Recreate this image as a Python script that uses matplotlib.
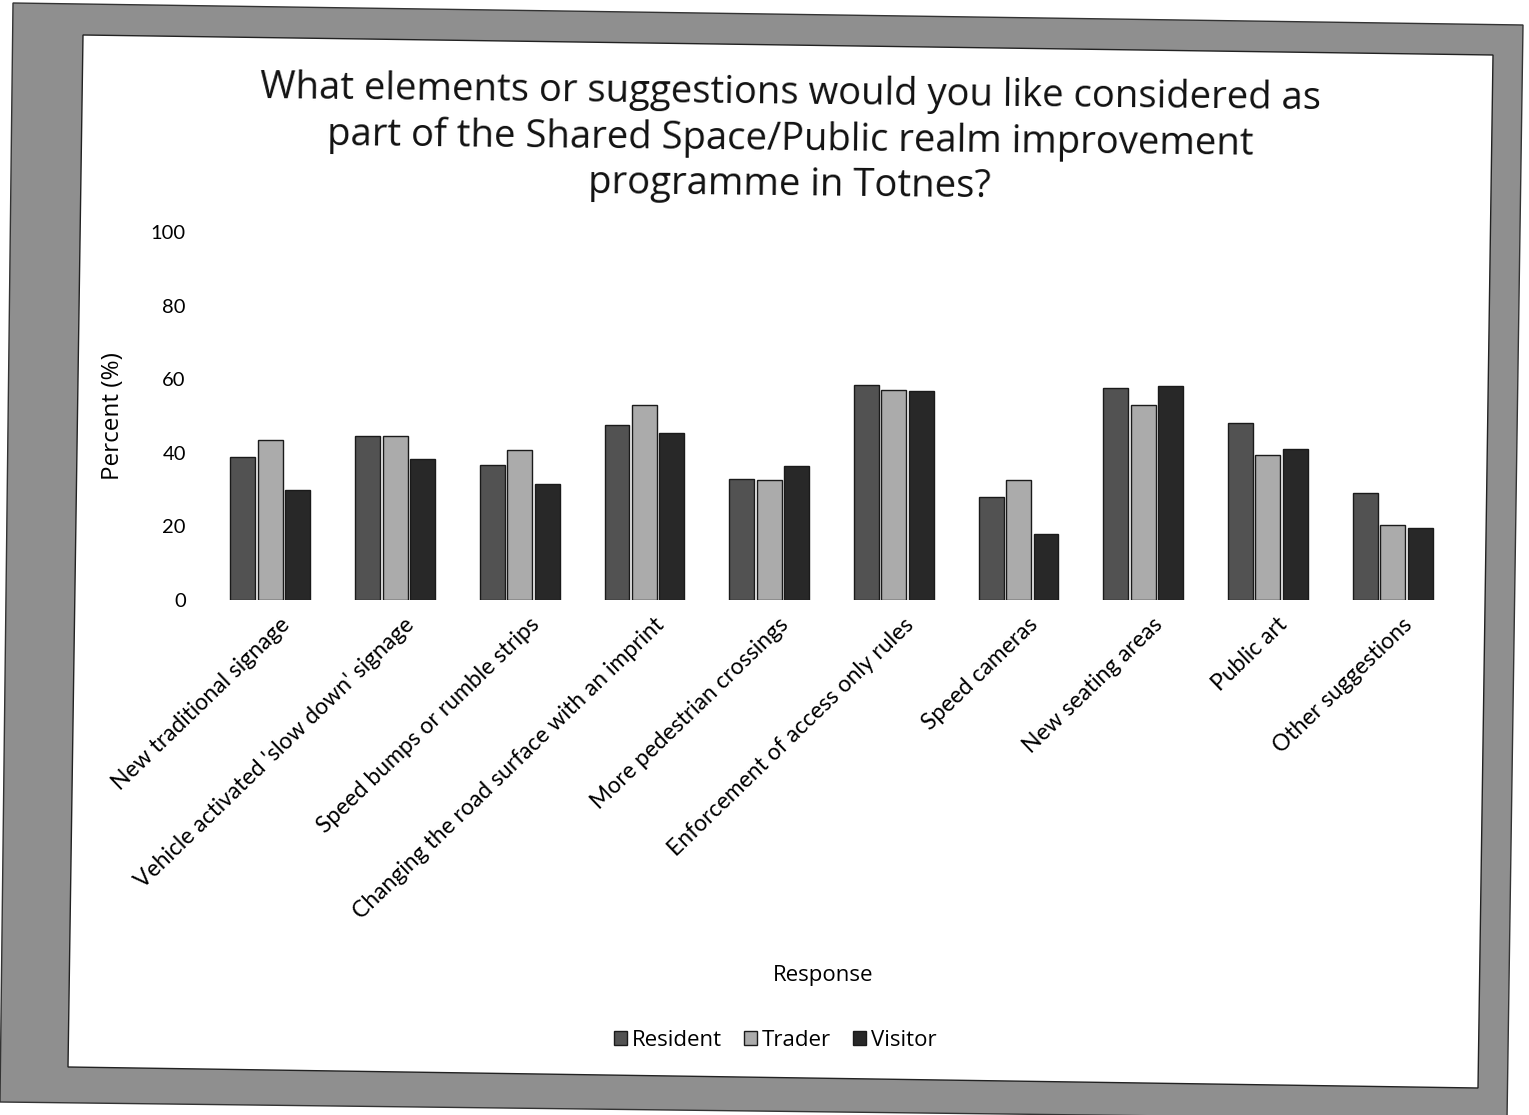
import numpy as np
import matplotlib.pyplot as plt
import matplotlib.transforms as mtransforms
from matplotlib.patches import Polygon

# data
categories = [
    "New traditional signage",
    "Vehicle activated 'slow down' signage",
    "Speed bumps or rumble strips",
    "Changing the road surface with an imprint",
    "More pedestrian crossings",
    "Enforcement of access only rules",
    "Speed cameras",
    "New seating areas",
    "Public art",
    "Other suggestions",
]
resident = [38.8, 44.6, 36.7, 47.6, 33.0, 58.3, 28.0, 57.5, 48.0, 29.0]
trader = [43.6, 44.6, 40.8, 53.0, 32.6, 57.2, 32.6, 53.0, 39.4, 20.4]
visitor = [30.0, 38.2, 31.4, 45.5, 36.5, 56.8, 17.9, 58.2, 41.0, 19.5]
series_names = ["Resident", "Trader", "Visitor"]
y_ticks = [0, 20, 40, 60, 80, 100]

W, H = 1529, 1115
fig = plt.figure(figsize=(W / 100, H / 100), dpi=100)
fig.patch.set_facecolor("white")


def px(pts):
    # pixel (x, y from top) -> figure fraction
    return [(x / W, 1 - y / H) for x, y in pts]


# scanned grey frame round the slide (drawn behind the axes)
outer = Polygon(px([(13, 3), (1523, 25), (1507, 1120), (0, 1102)]),
                closed=True, transform=fig.transFigure,
                facecolor="#8f8f8f", edgecolor="#333333", lw=1, zorder=-5)
inner = Polygon(px([(83, 35), (1493, 55), (1478, 1088), (68, 1067)]),
                closed=True, transform=fig.transFigure,
                facecolor="white", edgecolor="#222222", lw=1, zorder=-4)
fig.add_artist(outer)
fig.add_artist(inner)

ax = fig.add_axes([208 / W, (H - 600) / H, 1247 / W, 368 / H])
ax.patch.set_alpha(0)

x = np.arange(len(categories))
bw = 0.2
step = 0.22
colors = ["#525252", "#ababab", "#282828"]
for i, (vals, name) in enumerate(zip([resident, trader, visitor], series_names)):
    ax.bar(x + (i - 1) * step, vals, width=bw, color=colors[i],
           edgecolor="#1a1a1a", linewidth=1.0, label=name)

ax.set_xlim(-0.5, len(categories) - 0.5)
ax.set_ylim(0, 100)
ax.set_yticks(y_ticks)
ax.set_yticklabels([str(t) for t in y_ticks], fontsize=14.5, family="Lato")
ax.tick_params(axis="y", length=0, pad=16)
ax.tick_params(axis="x", length=0, pad=10)
ax.set_xticks(x)
ax.set_xticklabels(categories, rotation=44, ha="right",
                   rotation_mode="anchor", fontsize=16.5, family="Lato")
shift = mtransforms.ScaledTranslation(0.09, 0, fig.dpi_scale_trans)
for lbl in ax.get_xticklabels():
    lbl.set_transform(lbl.get_transform() + shift)
for s in ax.spines.values():
    s.set_visible(False)

ax.set_ylabel("Percent (%)", fontsize=17.5, family="Open Sans")
ax.yaxis.set_label_coords(-83 / 1247, 0.5)

fig.text(790 / W, 1 - 139 / H,
         "What elements or suggestions would you like considered as\n"
         "part of the Shared Space/Public realm improvement\n"
         "programme in Totnes?",
         ha="center", va="center", fontsize=27.5, family="Open Sans",
         linespacing=1.25, rotation=-0.6, color="#111111")

fig.text(823 / W, 1 - 975 / H, "Response", ha="center", va="center",
         fontsize=16, family="Open Sans")

fig.legend(loc="center", bbox_to_anchor=(775 / W, 1 - 1040 / H), ncol=3,
           frameon=False, handlelength=0.6, handleheight=0.6,
           handletextpad=0.2, columnspacing=1.0,
           prop={"family": "Open Sans", "size": 16})

fig.savefig("out.png", dpi=100)
